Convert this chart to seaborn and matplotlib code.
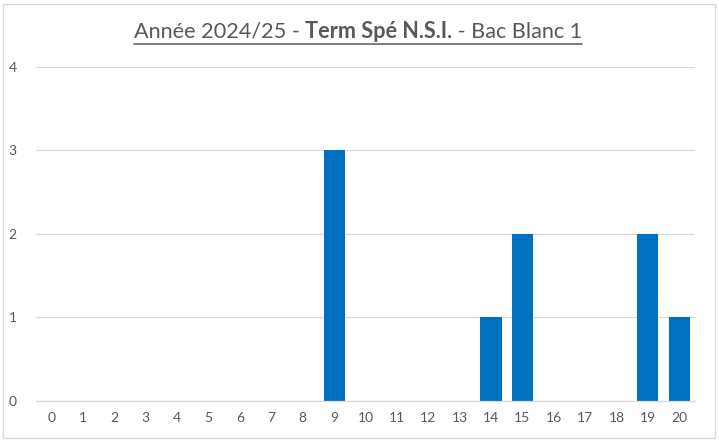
import matplotlib
matplotlib.use("Agg")
import matplotlib.pyplot as plt
import seaborn as sns
import pandas as pd
from matplotlib.patches import Rectangle
from matplotlib.lines import Line2D

# notes 0..20 and number of students per note
notes = [str(n) for n in range(21)]
effectifs = [0, 0, 0, 0, 0, 0, 0, 0, 0, 3, 0, 0, 0, 0, 1, 2, 0, 0, 0, 2, 1]
title_parts = ["Année 2024/25 - ", "Term Spé N.S.I.", " - Bac Blanc 1"]
title_weights = ["normal", "bold", "normal"]

df = pd.DataFrame({"note": notes, "effectif": effectifs})

sns.set_theme(style="white")
plt.rcParams["font.family"] = ["Lato", "DejaVu Sans"]

fig = plt.figure(figsize=(7.19, 4.43), dpi=100)
ax = fig.add_axes([0.050, 0.0948, 0.9166, 0.754])

sns.barplot(data=df, x="note", y="effectif", order=notes, color="#0070C0",
            width=0.67, saturation=1, linewidth=0, ax=ax)

ax.set_ylim(0, 4)
ax.set_xlim(-0.5, 20.5)
ax.set_yticks([0, 1, 2, 3, 4])
ax.yaxis.grid(True, color="#d9d9d9", linewidth=0.9)
ax.set_axisbelow(True)
for s in ["top", "right", "left"]:
    ax.spines[s].set_visible(False)
ax.spines["bottom"].set_color("#d9d9d9")
ax.spines["bottom"].set_linewidth(0.9)
ax.tick_params(axis="both", length=0, labelsize=10, labelcolor="#595959")
ax.tick_params(axis="y", pad=14)
ax.tick_params(axis="x", pad=8)
ax.set_xlabel("")
ax.set_ylabel("")

# chart border (excel style)
fig.patches.append(Rectangle((3 / 719, 5 / 443), 712 / 719, 434 / 443,
                             transform=fig.transFigure, fill=False,
                             edgecolor="#d9d9d9", linewidth=1))

# title in three pieces, underlined
renderer = fig.canvas.get_renderer()
texts = []
for part, w in zip(title_parts, title_weights):
    t = fig.text(0, 1 - 32 / 443, part, fontsize=15.6, fontweight=w,
                 color="#595959", va="center", ha="left")
    texts.append(t)
widths = [t.get_window_extent(renderer).width for t in texts]
total = sum(widths)
x0 = 358 - total / 2
x = x0
for t, w in zip(texts, widths):
    t.set_x(x / 719)
    x += w
fig.lines.append(Line2D([x0 / 719, (x0 + total) / 719], [1 - 44 / 443] * 2,
                        transform=fig.transFigure, color="#595959", linewidth=1.1))

fig.savefig("out.png", dpi=100)
